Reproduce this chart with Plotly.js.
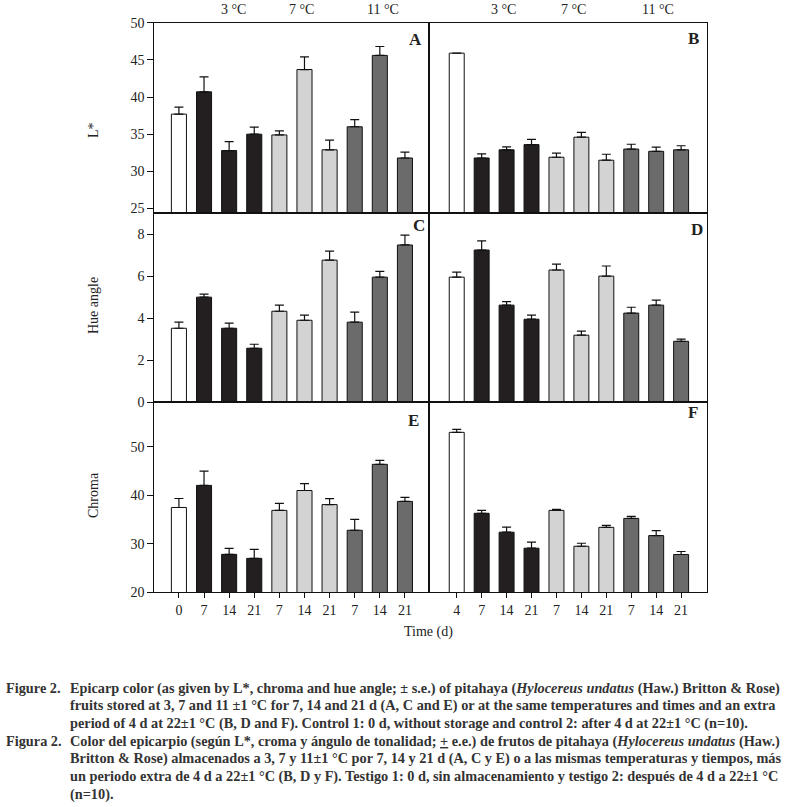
<!DOCTYPE html>
<html>
<head>
<meta charset="utf-8">
<script src="https://cdn.plot.ly/plotly-3.0.1.min.js"></script>
<style>html,body{margin:0;padding:0;background:#fff;}#chart{width:795px;height:807px;}</style>
</head>
<body>
<div id="chart"></div>
<script>
// ---- data ----
const ticksLeft = ['0','7','14','21','7','14','21','7','14','21'];
const ticksRight = ['4','7','14','21','7','14','21','7','14','21'];
const groups = ['control','3','3','3','7','7','7','11','11','11'];
const tempLabels = ['3 °C','7 °C','11 °C'];

const lstarA    = [37.7, 40.7, 32.8, 35.0, 34.9, 43.7, 32.9, 36.0, 45.6, 31.8];
const lstarAErr = [0.95, 2.0, 1.2, 0.95, 0.55, 1.7, 1.3, 0.95, 1.2, 0.8];
const lstarB    = [45.9, 31.8, 32.9, 33.6, 31.9, 34.6, 31.5, 33.0, 32.7, 32.9];
const lstarBErr = [0, 0.55, 0.4, 0.7, 0.55, 0.65, 0.8, 0.65, 0.55, 0.55];
const hueC      = [3.52, 5.0, 3.52, 2.57, 4.33, 3.9, 6.76, 3.81, 5.95, 7.48];
const hueCErr   = [0.29, 0.14, 0.24, 0.19, 0.29, 0.24, 0.43, 0.48, 0.27, 0.47];
const hueD      = [5.95, 7.24, 4.62, 3.95, 6.29, 3.19, 6.0, 4.24, 4.62, 2.9];
const hueDErr   = [0.24, 0.43, 0.17, 0.19, 0.28, 0.19, 0.48, 0.28, 0.24, 0.1];
const chromaE    = [37.5, 42.05, 27.83, 27.0, 36.9, 41.0, 38.1, 32.8, 46.4, 38.75];
const chromaEErr = [1.85, 2.95, 1.24, 1.86, 1.44, 1.44, 1.24, 2.26, 0.82, 0.82];
const chromaF    = [53.0, 36.3, 32.4, 29.1, 36.9, 29.5, 33.4, 35.25, 31.7, 27.8];
const chromaFErr = [0.62, 0.62, 1.03, 1.24, 0.2, 0.62, 0.41, 0.41, 1.04, 0.62];

// ---- styles ----
const groupColor = {control:'#ffffff', '3':'#231f20', '7':'#d3d3d3', '11':'#6b6b6b'};
const SERIF = '"Liberation Serif", "DejaVu Serif", serif';
const idx = ticksLeft.map((_, i) => i);

function barTrace(vals, errs, n) {
  return {
    type:'bar', x: idx, y: vals, width: 0.6,
    xaxis: 'x' + (n === 1 ? '' : n), yaxis: 'y' + (n === 1 ? '' : n),
    marker: {color: groups.map(g => groupColor[g]), line: {color:'#111', width:1}},
    error_y: {type:'data', symmetric:false, array: errs, arrayminus: errs.map(() => 0),
              color:'#111', thickness:1.2, width:4.5},
    showlegend:false, hoverinfo:'x+y'
  };
}

const data = [
  barTrace(lstarA, lstarAErr, 1),
  barTrace(lstarB, lstarBErr, 2),
  barTrace(hueC, hueCErr, 3),
  barTrace(hueD, hueDErr, 4),
  barTrace(chromaE, chromaEErr, 5),
  barTrace(chromaF, chromaFErr, 6)
];

const W = 795, H = 807;
const xL = [154.3/W, 429.3/W], xR = [429.3/W, 707.3/W];
const rows = [[1-213/H, 1-22.7/H], [1-402.3/H, 1-213/H], [1-592.3/H, 1-402.3/H]];
const rangeL = [-0.98, 9.97], rangeR = [-1.1, 10.05];
const yRanges = [[24.4, 50], [0, 9], [20, 59.2]];
const yTicks = [[25,30,35,40,45,50],[0,2,4,6,8],[20,30,40,50]];
const tickFont = {family: SERIF, size: 14, color:'#222'};

const layout = {
  width: W, height: H, margin: {l:0, r:0, t:0, b:0},
  paper_bgcolor:'#fff', plot_bgcolor:'#fff',
  bargap: 0.4, showlegend:false,
  font: {family: SERIF, color:'#222'},
  annotations: []
};

for (let r = 0; r < 3; r++) {
  for (let c = 0; c < 2; c++) {
    const n = r*2 + c + 1;
    const sfx = n === 1 ? '' : n;
    const bottom = r === 2;
    layout['xaxis' + sfx] = {
      domain: c === 0 ? xL : xR, range: c === 0 ? rangeL : rangeR,
      anchor: 'y' + sfx, showline:true, mirror:true, linecolor:'#111', linewidth:1,
      showgrid:false, zeroline:false,
      tickvals: idx, ticktext: c === 0 ? ticksLeft : ticksRight,
      ticks: bottom ? 'outside' : '', ticklen: 5, tickcolor:'#111',
      showticklabels: bottom, tickfont: tickFont, fixedrange:true
    };
    layout['yaxis' + sfx] = {
      domain: rows[r], range: yRanges[r], anchor: 'x' + sfx,
      showline:true, mirror:true, linecolor:'#111', linewidth:1,
      showgrid:false, zeroline:false,
      tickvals: yTicks[r], ticks: c === 0 ? 'outside' : '', ticklen: 6, tickcolor:'#111',
      showticklabels: c === 0, tickfont: tickFont, fixedrange:true
    };
  }
}

// panel letters
const letters = [['A',415,40],['B',693,38],['C',419,225],['D',697,229],['E',413,420],['F',693,413]];
letters.forEach(([t,x,y]) => layout.annotations.push({
  text: '<b>' + t + '</b>', xref:'paper', yref:'paper', x: x/W, y: 1 - y/H,
  showarrow:false, xanchor:'center', yanchor:'middle', font:{family:SERIF, size:17, color:'#222'}
}));

// temperature headers (positioned in category units of the top axes)
const tempPosL = [2.16, 4.9, 8.13], tempPosR = [1.86, 4.67, 8.08];
tempLabels.forEach((t, i) => {
  layout.annotations.push({text:t, xref:'x', yref:'paper', x: tempPosL[i], y: 1 - 9/H,
    showarrow:false, xanchor:'center', yanchor:'middle', font:{family:SERIF, size:14, color:'#222'}});
  layout.annotations.push({text:t, xref:'x2', yref:'paper', x: tempPosR[i], y: 1 - 9/H,
    showarrow:false, xanchor:'center', yanchor:'middle', font:{family:SERIF, size:14, color:'#222'}});
});

// axis titles
const yTitles = [['L*',93,130],['Hue angle',93,306],['Chroma',93,495]];
yTitles.forEach(([t,x,y]) => layout.annotations.push({
  text:t, xref:'paper', yref:'paper', x:x/W, y:1-y/H, textangle:-90,
  showarrow:false, xanchor:'center', yanchor:'middle', font:{family:SERIF, size:14, color:'#222'}
}));
layout.annotations.push({text:'Time (d)', xref:'paper', yref:'paper', x:428/W, y:1-632/H,
  showarrow:false, xanchor:'center', yanchor:'middle', font:{family:SERIF, size:14, color:'#222'}});

// caption
const capLabels = [['Figure 2.', 0], ['Figura 2.', 3]];
const capLines = [
  'Epicarp color (as given by L*, chroma and hue angle; ± s.e.) of pitahaya (<i>Hylocereus undatus</i> (Haw.) Britton &amp; Rose)',
  'fruits stored at 3, 7 and 11 ±1 °C for 7, 14 and 21 d (A, C and E) or at the same temperatures and times and an extra',
  'period of 4 d at 22±1 °C (B, D and F). Control 1: 0 d, without storage and control 2: after 4 d at 22±1 °C (n=10).',
  'Color del epicarpio (según L*, croma y ángulo de tonalidad; <u>+</u> e.e.) de frutos de pitahaya (<i>Hylocereus undatus</i> (Haw.)',
  'Britton &amp; Rose) almacenados a 3, 7 y 11±1 °C por 7, 14 y 21 d (A, C y E) o a las mismas temperaturas y tiempos, más',
  'un periodo extra de 4 d a 22±1 °C (B, D y F). Testigo 1: 0 d, sin almacenamiento y testigo 2: después de 4 d a 22±1 °C',
  '(n=10).'
];
const capFont = {family: SERIF, size: 14.3, color:'#333'};
capLabels.forEach(([t, li]) => layout.annotations.push({
  text:'<b>' + t + '</b>', xref:'paper', yref:'paper', x: 4/W, y: 1 - (688 + li*17.7)/H,
  showarrow:false, xanchor:'left', yanchor:'middle', font: capFont
}));
capLines.forEach((t, i) => layout.annotations.push({
  text:'<b>' + t + '</b>', xref:'paper', yref:'paper', x: 68/W, y: 1 - (688 + i*17.7)/H,
  showarrow:false, xanchor:'left', yanchor:'middle', font: capFont
}));

Plotly.newPlot('chart', data, layout, {displayModeBar:false, staticPlot:true});
</script>
</body>
</html>
